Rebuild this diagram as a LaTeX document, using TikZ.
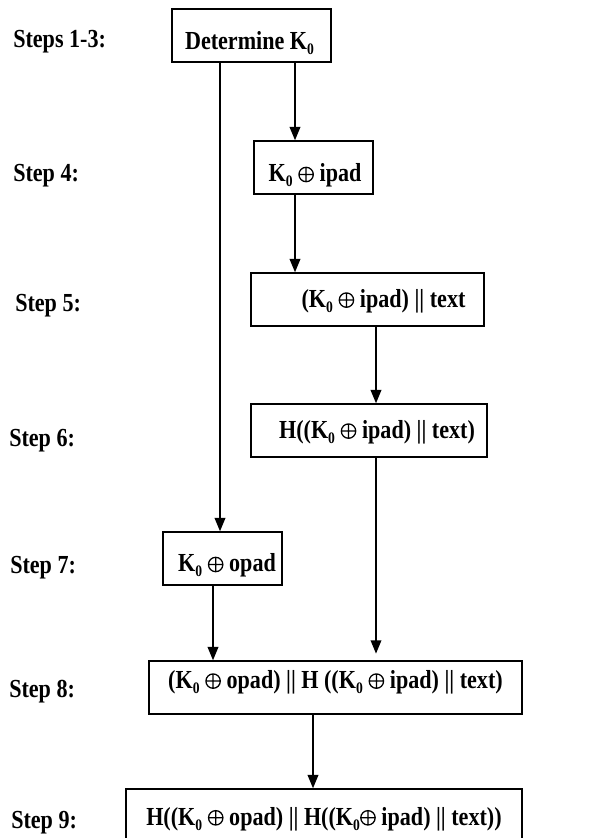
\documentclass[tikz,border=0pt]{standalone}
\usepackage{fontspec}
\setmainfont{Liberation Serif}[FakeStretch=0.85]
\usetikzlibrary{arrows.meta}
\newcommand{\zs}{\raisebox{-3.75pt}{\fontsize{12}{12}\selectfont 0}}
\newcommand{\xo}{\raisebox{-0.6pt}{\tikz[x=1pt,y=1pt,baseline=0pt]{\path[use as bounding box] (-6,0) rectangle (6,12);\draw[line width=0.95pt] (0,6) circle (5.4) (-5.4,6)--(5.4,6) (0,0.6)--(0,11.4);}}}
\begin{document}
\begin{tikzpicture}[x=0.75pt, y=-0.75pt,
  box/.style={draw, line width=1.1pt, inner sep=0pt, minimum height=39.75pt},
  txt/.style={font=\fontsize{19.5}{22}\selectfont\bfseries, inner sep=0pt, anchor=base},
  lbl/.style={txt, anchor=base west},
  arr/.style={-{Triangle[length=10pt,width=8pt]}, line width=1.1pt}]
\useasboundingbox (0,0) rectangle (607,838);
\clip (0,0) rectangle (607,838);
% boxes
\node[box, minimum width=119.25pt] (b1) at (251.5,35.7) {};
\node[box, minimum width=89.25pt]  (b2) at (313.5,167.5) {};
\node[box, minimum width=174.75pt] (b3) at (367.5,299.5) {};
\node[box, minimum width=177pt]    (b4) at (369,430.5) {};
\node[box, minimum width=89.25pt]  (b7) at (222.5,558.5) {};
\node[box, minimum width=279.75pt] (b8) at (335.5,687.5) {};
\node[box, minimum width=297pt]    (b9) at (324,815.5) {};
% box texts
\node[txt] (t1) at (249.5,50) {Determine K\zs};
\node[txt] (t2) at (315,181.7) {K\zs{} \xo{} ipad};
\node[txt] (t3) at (383.5,307.3) {(K\zs{} \xo{} ipad) || text};
\node[txt] (t4) at (377,438.3) {H((K\zs{} \xo{} ipad) || text)};
\node[txt] (t7) at (227,571.7) {K\zs{} \xo{} opad};
\node[txt] (t8) at (335.5,688.3) {(K\zs{} \xo{} opad) || H ((K\zs{} \xo{} ipad) || text)};
\node[txt] (t9) at (324,825) {H((K\zs{} \xo{} opad) || H((K\zs\xo{} ipad) || text))};
% step labels
\node[lbl] (s1) at (13,48) {Steps 1-3:};
\node[lbl] (s4) at (13,181.7) {Step 4:};
\node[lbl] (s5) at (15,311.7) {Step 5:};
\node[lbl] (s6) at (9,446.7) {Step 6:};
\node[lbl] (s7) at (10,573) {Step 7:};
\node[lbl] (s8) at (9,697) {Step 8:};
\node[lbl] (s9) at (11,828) {Step 9:};
% connectors
\draw[arr] (b1.south -| 295,0) -- (b2.north -| 295,0);
\draw[arr] (b1.south -| 220,0) -- (b7.north -| 220,0);
\draw[arr] (b2.south -| 295,0) -- (b3.north -| 295,0);
\draw[arr] (b3.south -| 376,0) -- (b4.north -| 376,0);
\draw[arr, shorten >=5pt] (b4.south -| 376,0) -- (b8.north -| 376,0);
\draw[arr] (b7.south -| 213,0) -- (b8.north -| 213,0);
\draw[arr] (b8.south -| 313,0) -- (b9.north -| 313,0);
\end{tikzpicture}
\end{document}
